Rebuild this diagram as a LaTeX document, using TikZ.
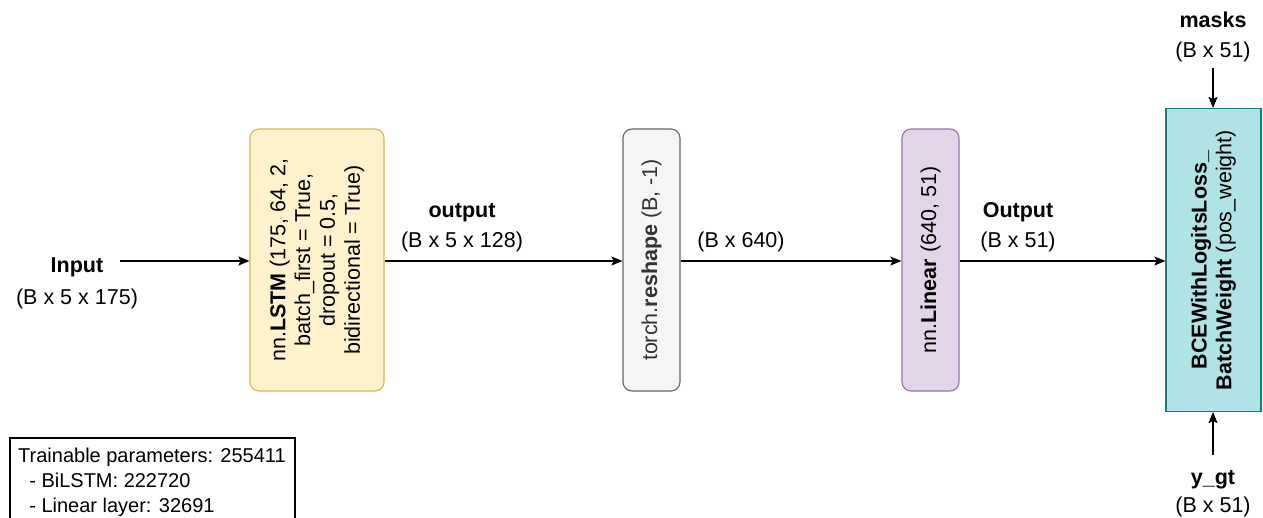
\documentclass[tikz,border=0pt]{standalone}
\usepackage{fontspec}
\setmainfont{Liberation Sans}
\usetikzlibrary{arrows.meta}
\definecolor{lstmfill}{HTML}{FFF2CC}
\definecolor{lstmdraw}{HTML}{D6B656}
\definecolor{rsfill}{HTML}{F5F5F5}
\definecolor{rsdraw}{HTML}{666666}
\definecolor{rstext}{HTML}{333333}
\definecolor{linfill}{HTML}{E1D5E7}
\definecolor{lindraw}{HTML}{9673A6}
\definecolor{bcefill}{HTML}{B0E3E6}
\definecolor{bcedraw}{HTML}{0E8088}
\begin{document}
\begin{tikzpicture}[x=1pt,y=-1pt,
  font=\fontsize{21.5}{24.8}\selectfont,
  boldlbl/.style={font=\fontsize{21.5}{24.8}\selectfont\bfseries},
  layerbox/.style={draw, line width=1.1pt, rounded corners=9pt, inner sep=0pt},
  vtext/.style={rotate=90, align=center, inner sep=0pt},
  lbl/.style={anchor=base, inner sep=0pt},
  flow/.style={line width=1.3pt, -{Stealth[length=11pt,width=9pt,inset=2pt]}}
]
\useasboundingbox (0,0) rectangle (1263,517);

% layer boxes
\node[layerbox, fill=lstmfill, draw=lstmdraw, minimum width=134pt, minimum height=262pt] (lstm) at (317,260) {};
\node[vtext] (lstmtxt) at (lstm.center) {nn.\textbf{LSTM} (175, 64, 2,\\batch\_first = True,\\dropout = 0.5,\\bidirectional = True)};

\node[layerbox, fill=rsfill, draw=rsdraw, minimum width=57pt, minimum height=262pt] (rs) at (651.5,260) {};
\node[vtext, text=rstext] (rstxt) at (rs.center) {torch.\textbf{reshape} (B, -1)};

\node[layerbox, fill=linfill, draw=lindraw, minimum width=57pt, minimum height=262pt] (lin) at (930.5,260) {};
\node[vtext] (lintxt) at (lin.center) {nn.\textbf{Linear} (640, 51)};

\node[draw=bcedraw, fill=bcefill, line width=1.1pt, inner sep=0pt, minimum width=95pt, minimum height=303pt] (bce) at (1213.5,260) {};
\node[vtext] (bcetxt) at (bce.center) {\textbf{BCEWithLogitsLoss\_}\\\textbf{BatchWeight} (pos\_weight)};

% input and side labels
\node[lbl, boldlbl] (inname) at (77,272) {Input};
\node[lbl] (inshape) at (77,304) {(B x 5 x 175)};
\coordinate (instart) at (120,261);

\node[lbl, boldlbl] (outname) at (462,217) {output};
\node[lbl] (outshape) at (462,247) {(B x 5 x 128)};
\node[lbl] (flatshape) at (741,247) {(B x 640)};
\node[lbl, boldlbl] (logname) at (1018,217) {Output};
\node[lbl] (logshape) at (1018,247) {(B x 51)};

\node[lbl, boldlbl] (maskname) at (1213,27) {masks};
\node[lbl] (maskshape) at (1213,57) {(B x 51)};
\coordinate (maskstart) at (1213,68);

\node[lbl, boldlbl] (gtname) at (1213,484) {y\_gt};
\node[lbl] (gtshape) at (1213,512) {(B x 51)};
\coordinate (gtstart) at (1213,455);

% connectors
\draw[flow] (instart) -- (instart -| lstm.west);
\draw[flow] (lstm.east |- instart) -- (rs.west |- instart);
\draw[flow] (rs.east |- instart) -- (lin.west |- instart);
\draw[flow] (lin.east |- instart) -- (bce.west |- instart);
\draw[flow] (maskstart) -- (maskstart |- bce.north);
\draw[flow] (gtstart) -- (gtstart |- bce.south);

% parameter summary
\draw[line width=1.1pt] (295,530) -- (295,438) -- (10,438) -- (10,530);
\begin{scope}[font=\fontsize{20}{25}\selectfont]
\node[anchor=base west, inner sep=0pt] (ptotal) at (18,462) {Trainable parameters: 255411};
\node[anchor=base west, inner sep=0pt] (plstm) at (18,487) {\ \ - BiLSTM: 222720};
\node[anchor=base west, inner sep=0pt] (plin) at (18,512) {\ \ - Linear layer: 32691};
\end{scope}
\end{tikzpicture}
\end{document}
